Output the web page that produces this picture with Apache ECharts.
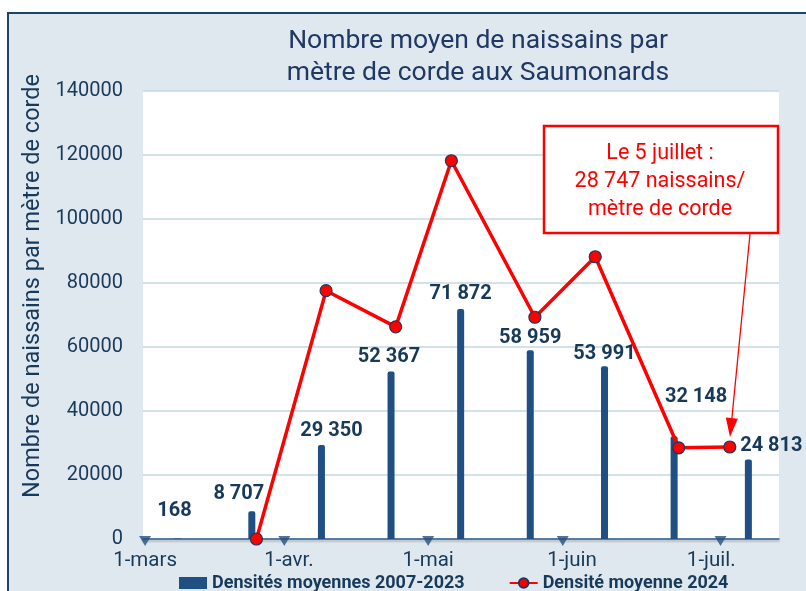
<!DOCTYPE html>
<html>
<head>
<meta charset="utf-8">
<script src="https://cdn.jsdelivr.net/npm/echarts@6/dist/echarts.min.js"></script>
<style>
  html, body { margin: 0; padding: 0; background: #fff; overflow: hidden; }
  .frame {
    position: absolute; left: 7px; top: 12px; width: 900px; height: 700px;
    background: #dfe8ef; border-left: 2px solid #1b4466; border-top: 2px solid #1b4466;
  }
  #chart { position: absolute; left: 0; top: 0; width: 806px; height: 591px; }
</style>
</head>
<body>
<div class="frame"></div>
<div id="chart"></div>
<script>
// densités moyennes 2007-2023 (barres)
const barDates = ['2024-03-08', '2024-03-24', '2024-04-08', '2024-04-23', '2024-05-08',
  '2024-05-23', '2024-06-08', '2024-06-23', '2024-07-09']
const barValues = [168, 8707, 29350, 52367, 71872, 58959, 53991, 32148, 24813]

// densité moyenne 2024 (courbe)
const lineDates = ['2024-03-25', '2024-04-09', '2024-04-24', '2024-05-06', '2024-05-24',
  '2024-06-06', '2024-06-24', '2024-07-05']
const lineValues = [0, 77600, 66300, 118200, 69300, 88200, 28500, 28747]

// petits triangles en bas de l'axe
const markerDates = ['2024-03-01', '2024-03-31', '2024-05-01', '2024-05-30', '2024-07-03']
const markerValues = [0, 0, 0, 0, 0]

const monthStarts = ['2024-03-01', '2024-04-01', '2024-05-01', '2024-06-01', '2024-07-01']
const monthNames = ['janv.', 'févr.', 'mars', 'avr.', 'mai', 'juin', 'juil.', 'août']

// position manuelle des étiquettes (comme dans Excel)
const labelOffsets = [[-3, -12], [-13, -2], [10, 1], [-2, 1], [0, 0], [0, 3], [0, 3], [22, -24], [23, 1]]

// jours depuis le 1er mars
const DAY = 86400000
const origin = new Date(2024, 2, 1).getTime()
const toDay = s => {
  const [y, m, d] = s.split('-').map(Number)
  return Math.round((new Date(y, m - 1, d).getTime() - origin) / DAY)
}
const dayLabel = v => '1-' + monthNames[new Date(origin + v * DAY).getMonth()]
const fmtNum = v => String(v).replace(/\B(?=(\d{3})+(?!\d))/g, ' ')

const navy = '#173a5a'
const chart = echarts.init(document.getElementById('chart'))

const option = {
  animation: false,
  textStyle: { fontFamily: 'Roboto' },
  title: {
    text: 'Nombre moyen de naissains par\nmètre de corde aux Saumonards',
    left: 473,
    top: 20,
    textAlign: 'center',
    textStyle: { fontSize: 26.5, fontWeight: 'normal', color: '#1f3864', lineHeight: 32, fontFamily: 'Roboto' }
  },
  grid: {
    left: 143, right: 27, top: 91, bottom: 52,
    show: true, backgroundColor: '#fff', borderWidth: 0
  },
  legend: {
    left: 179,
    top: 574,
    padding: 0,
    itemWidth: 28,
    itemHeight: 12,
    itemGap: 44,
    textStyle: { fontSize: 18, fontWeight: 'bold', color: navy, fontFamily: 'Roboto' },
    data: [
      { name: 'Densités moyennes 2007-2023', icon: 'rect' },
      { name: 'Densité moyenne 2024' }
    ]
  },
  xAxis: {
    type: 'value',
    min: -0.45,
    max: 136.6,
    splitLine: { show: false },
    axisTick: { show: false },
    axisLine: {
      onZero: false,
      lineStyle: { color: '#2f5f8f', width: 1.5, shadowColor: 'rgba(0,0,0,0.25)', shadowOffsetY: 2, shadowBlur: 2 }
    },
    axisLabel: {
      customValues: monthStarts.map(toDay),
      margin: 11,
      fontSize: 20.5,
      color: navy,
      formatter: v => dayLabel(v)
    }
  },
  yAxis: {
    type: 'value',
    min: 0,
    max: 140000,
    interval: 20000,
    name: 'Nombre de naissains par mètre de corde',
    nameLocation: 'middle',
    nameRotate: 90,
    nameGap: 94,
    nameTextStyle: { fontSize: 23.5, color: navy, fontFamily: 'Roboto', padding: [0, 0, 0, 58] },
    axisLine: { show: false },
    axisTick: { show: false },
    axisLabel: {
      margin: 20,
      fontSize: 20,
      color: navy,
      formatter: v => String(v)
    },
    splitLine: { lineStyle: { color: '#c6d7e2', width: 1.5 } }
  },
  series: [
    {
      name: 'Densités moyennes 2007-2023',
      type: 'bar',
      barWidth: 7,
      itemStyle: { color: '#1f4f83', borderRadius: [2, 2, 0, 0] },
      label: {
        show: true,
        position: 'top',
        distance: 5,
        fontSize: 20,
        fontWeight: 'bold',
        color: navy,
        fontFamily: 'Roboto',
        formatter: p => fmtNum(p.value[1])
      },
      labelLayout: p => ({ dx: labelOffsets[p.dataIndex][0], dy: labelOffsets[p.dataIndex][1] }),
      data: barDates.map((d, i) => [toDay(d), barValues[i]]),
      z: 2
    },
    {
      name: 'markers',
      type: 'scatter',
      symbol: 'triangle',
      symbolRotate: 180,
      symbolSize: [12, 10],
      symbolOffset: [0, 2],
      itemStyle: { color: '#24507e' },
      data: markerDates.map((d, i) => [toDay(d), markerValues[i]]),
      z: 3
    },
    {
      name: 'Densité moyenne 2024',
      type: 'line',
      symbol: 'circle',
      symbolSize: 12,
      lineStyle: { color: '#ff0000', width: 3.5 },
      itemStyle: { color: '#ff0000', borderColor: '#1a3a5c', borderWidth: 1.2 },
      data: lineDates.map((d, i) => [toDay(d), lineValues[i]]),
      z: 4
    }
  ],
  graphic: [
    {
      type: 'rect',
      shape: { x: 544, y: 126, width: 234, height: 107 },
      style: { fill: '#fff', stroke: '#ff0000', lineWidth: 2.5 },
      z: 10
    },
    {
      type: 'text',
      x: 660,
      y: 140,
      style: {
        text: 'Le 5 juillet :\n28 747 naissains/\nmètre de corde',
        fill: '#ff0000',
        font: '21.5px Roboto',
        lineHeight: 28,
        textAlign: 'center'
      },
      z: 11
    },
    {
      type: 'line',
      shape: { x1: 750, y1: 234, x2: 731.8, y2: 419 },
      style: { stroke: '#ff0000', lineWidth: 1.3 },
      z: 10
    },
    {
      type: 'polygon',
      shape: { points: [[730, 437], [737.8, 418.7], [725.8, 417.5]] },
      style: { fill: '#ff0000' },
      z: 10
    }
  ]
}

chart.setOption(option)
</script>
</body>
</html>
